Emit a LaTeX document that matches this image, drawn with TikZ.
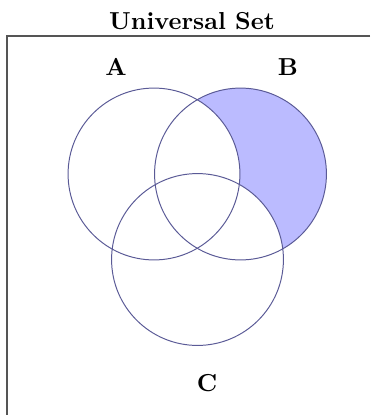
\documentclass[tikz,border=0pt]{standalone}
\usepackage{xcolor}
\usepackage{tikz}
\definecolor{SetLine}{HTML}{5A5A96}
\definecolor{SetFill}{HTML}{BBBBFF}
\definecolor{FrameGray}{HTML}{555555}

\begin{document}
\begin{tikzpicture}[x=0.4073pt,y=-0.4073pt, every node/.style={font=\bfseries}]
  \useasboundingbox (0,0) rectangle (370,415);
  \tikzset{setring/.style={draw=SetLine,circle,inner sep=0pt,minimum size=70pt}}
  \coordinate (ca) at (154,174);
  \coordinate (cb) at (240.5,174);
  \coordinate (cc) at (197.5,259.5);
  % B only
  \begin{scope}
    \clip (cb) circle (35pt);
    \fill[SetFill] (cb) circle (35pt);
    \fill[white] (ca) circle (35pt) (cc) circle (35pt);
  \end{scope}
  \node[setring] (A) at (ca) {};
  \node[setring] (B) at (cb) {};
  \node[setring] (C) at (cc) {};
  \node (title) at (192,21) {Universal Set};
  \node (labA) at (116,67) {A};
  \node (labB) at (288,67) {B};
  \node (labC) at (207,383) {C};
  \coordinate (ftr) at (370,36);
  \coordinate (ftl) at (7,36);
  \coordinate (fbl) at (7,415);
  \draw[FrameGray,line width=0.6pt] (ftr) -- (ftl) -- (fbl);
\end{tikzpicture}
\end{document}
